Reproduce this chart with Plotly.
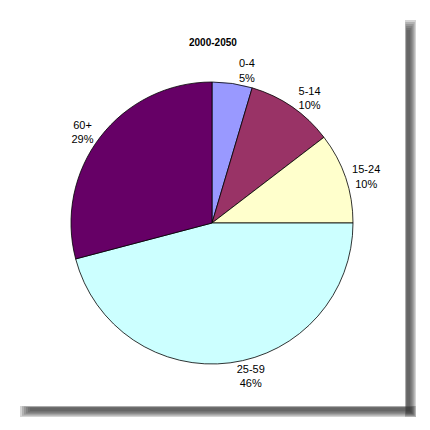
import plotly.graph_objects as go

# page body has an 8px margin, so the figure sits 8px in from the window edge
OFF = 8
W = 422
H = 422

title = "2000-2050"
ages = ["0-4", "5-14", "15-24", "25-59", "60+"]
shares = [4.6, 10.0, 10.4, 45.9, 29.1]
colors = ["#9999FF", "#993366", "#FFFFCC", "#CCFFFF", "#660066"]


def px_x(x):
    return (x - OFF) / W


def px_y(y):
    return 1 - (y - OFF) / H


font = dict(family="Liberation Sans, Arial, sans-serif", size=11, color="#000000")

fig = go.Figure()

fig.add_trace(go.Pie(
    labels=ages,
    values=shares,
    sort=False,
    direction="clockwise",
    rotation=0,
    marker=dict(colors=colors, line=dict(color="#000000", width=0.8)),
    texttemplate="%{label}<br>%{percent:.0%}",
    textposition="outside",
    textfont=font,
    outsidetextfont=font,
    hoverinfo="label+percent",
    showlegend=False,
    domain=dict(x=[px_x(71), px_x(353)], y=[px_y(364), px_y(82)]),
))

# drop shadow of the chart box (soft edges built from stacked translucent rects)
shapes = []
for i in range(6):
    shapes.append(dict(type="rect", xref="paper", yref="paper",
                       x0=px_x(405 + i * 0.3), x1=px_x(416 - i * 1.2),
                       y0=px_y(417 - i * 1.2), y1=px_y(20 + i * 2),
                       line=dict(width=0), fillcolor="#3a3a3a", opacity=0.22, layer="below"))
    shapes.append(dict(type="rect", xref="paper", yref="paper",
                       x0=px_x(20 + i * 2), x1=px_x(416 - i * 1.2),
                       y0=px_y(417 - i * 1.2), y1=px_y(406 + i * 0.3),
                       line=dict(width=0), fillcolor="#3a3a3a", opacity=0.22, layer="below"))
# white chart box over the inner part of the shadow
shapes.append(dict(type="rect", xref="paper", yref="paper",
                   x0=0, x1=px_x(405), y0=px_y(406), y1=1,
                   line=dict(width=0), fillcolor="#FFFFFF", layer="below"))

fig.update_layout(
    width=W, height=H,
    margin=dict(l=0, r=0, t=0, b=0),
    paper_bgcolor="#FFFFFF", plot_bgcolor="#FFFFFF",
    shapes=shapes,
    annotations=[dict(text="<b>" + title + "</b>", xref="paper", yref="paper",
                      x=px_x(213), y=px_y(42), xanchor="center", yanchor="middle",
                      showarrow=False,
                      font=dict(family="Liberation Sans, Arial, sans-serif", size=10, color="#000000"))],
)

fig.write_html("out.html")
